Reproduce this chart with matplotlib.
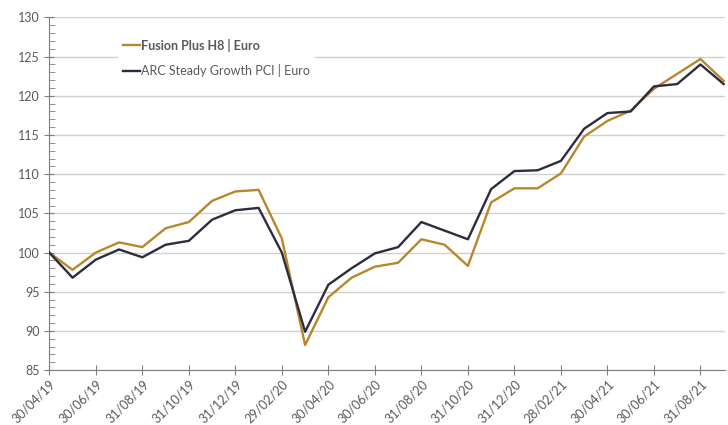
import matplotlib.pyplot as plt
from matplotlib.ticker import MultipleLocator
import numpy as np

dates = ['30/04/19', '31/05/19', '30/06/19', '31/07/19', '31/08/19', '30/09/19',
         '31/10/19', '30/11/19', '31/12/19', '31/01/20', '29/02/20', '31/03/20',
         '30/04/20', '31/05/20', '30/06/20', '31/07/20', '31/08/20', '30/09/20',
         '31/10/20', '30/11/20', '31/12/20', '31/01/21', '28/02/21', '31/03/21',
         '30/04/21', '31/05/21', '30/06/21', '31/07/21', '31/08/21', '30/09/21']

fusion = [100.0, 97.8, 100.0, 101.3, 100.7, 103.1, 103.9, 106.6, 107.8, 108.0,
          101.8, 88.2, 94.3, 96.8, 98.2, 98.7, 101.7, 101.0, 98.3, 106.4,
          108.2, 108.2, 110.1, 114.8, 116.8, 118.1, 120.9, 122.8, 124.7, 121.9]
arc = [100.0, 96.8, 99.1, 100.4, 99.4, 101.0, 101.5, 104.2, 105.4, 105.7,
       100.0, 89.9, 95.9, 98.0, 99.9, 100.7, 103.9, 102.8, 101.7, 108.1,
       110.4, 110.5, 111.7, 115.8, 117.8, 118.0, 121.2, 121.5, 124.0, 121.5]

gold = '#B8872C'
navy = '#2D2C3E'
txt = '#595959'

plt.rcParams['font.family'] = ['Lato', 'DejaVu Sans']

fig = plt.figure(figsize=(7.28, 4.25), dpi=100)
ax = fig.add_axes([0.0677, 0.129, 0.928, 0.830])

x = np.arange(len(dates))
ax.plot(x, fusion, color=gold, lw=1.7, label='Fusion Plus H8 | Euro', zorder=3)
ax.plot(x, arc, color=navy, lw=1.7, label='ARC Steady Growth PCI | Euro', zorder=3)

ax.set_ylim(85, 130)
ax.set_xlim(0, 29.05)
ax.yaxis.set_major_locator(MultipleLocator(5))
ax.yaxis.set_minor_locator(MultipleLocator(1))
ax.set_xticks(x[::2])
ax.set_xticklabels(dates[::2], rotation=45, ha='right', rotation_mode='anchor')

ax.grid(axis='y', color='#d0d0d0', lw=1)
ax.set_axisbelow(True)
for s in ['top', 'right']:
    ax.spines[s].set_visible(False)
for s in ['left', 'bottom']:
    ax.spines[s].set_color('#7f7f7f')
ax.tick_params(axis='both', which='major', direction='inout', length=7,
               color='#7f7f7f', labelcolor=txt, labelsize=9)
ax.tick_params(axis='y', which='minor', direction='in', length=4, color='#7f7f7f')
ax.tick_params(axis='x', pad=2)

leg = ax.legend(loc='upper left', bbox_to_anchor=(0.093, 0.972), frameon=True,
                handlelength=1.3, handletextpad=0.1, labelspacing=1.0,
                fontsize=9, labelcolor=txt, borderpad=0.4)
leg.get_frame().set_edgecolor('none')
leg.get_frame().set_facecolor('white')
leg.get_frame().set_alpha(1)
leg.get_texts()[0].set_fontweight('bold')

fig.savefig('out.png', dpi=100)
